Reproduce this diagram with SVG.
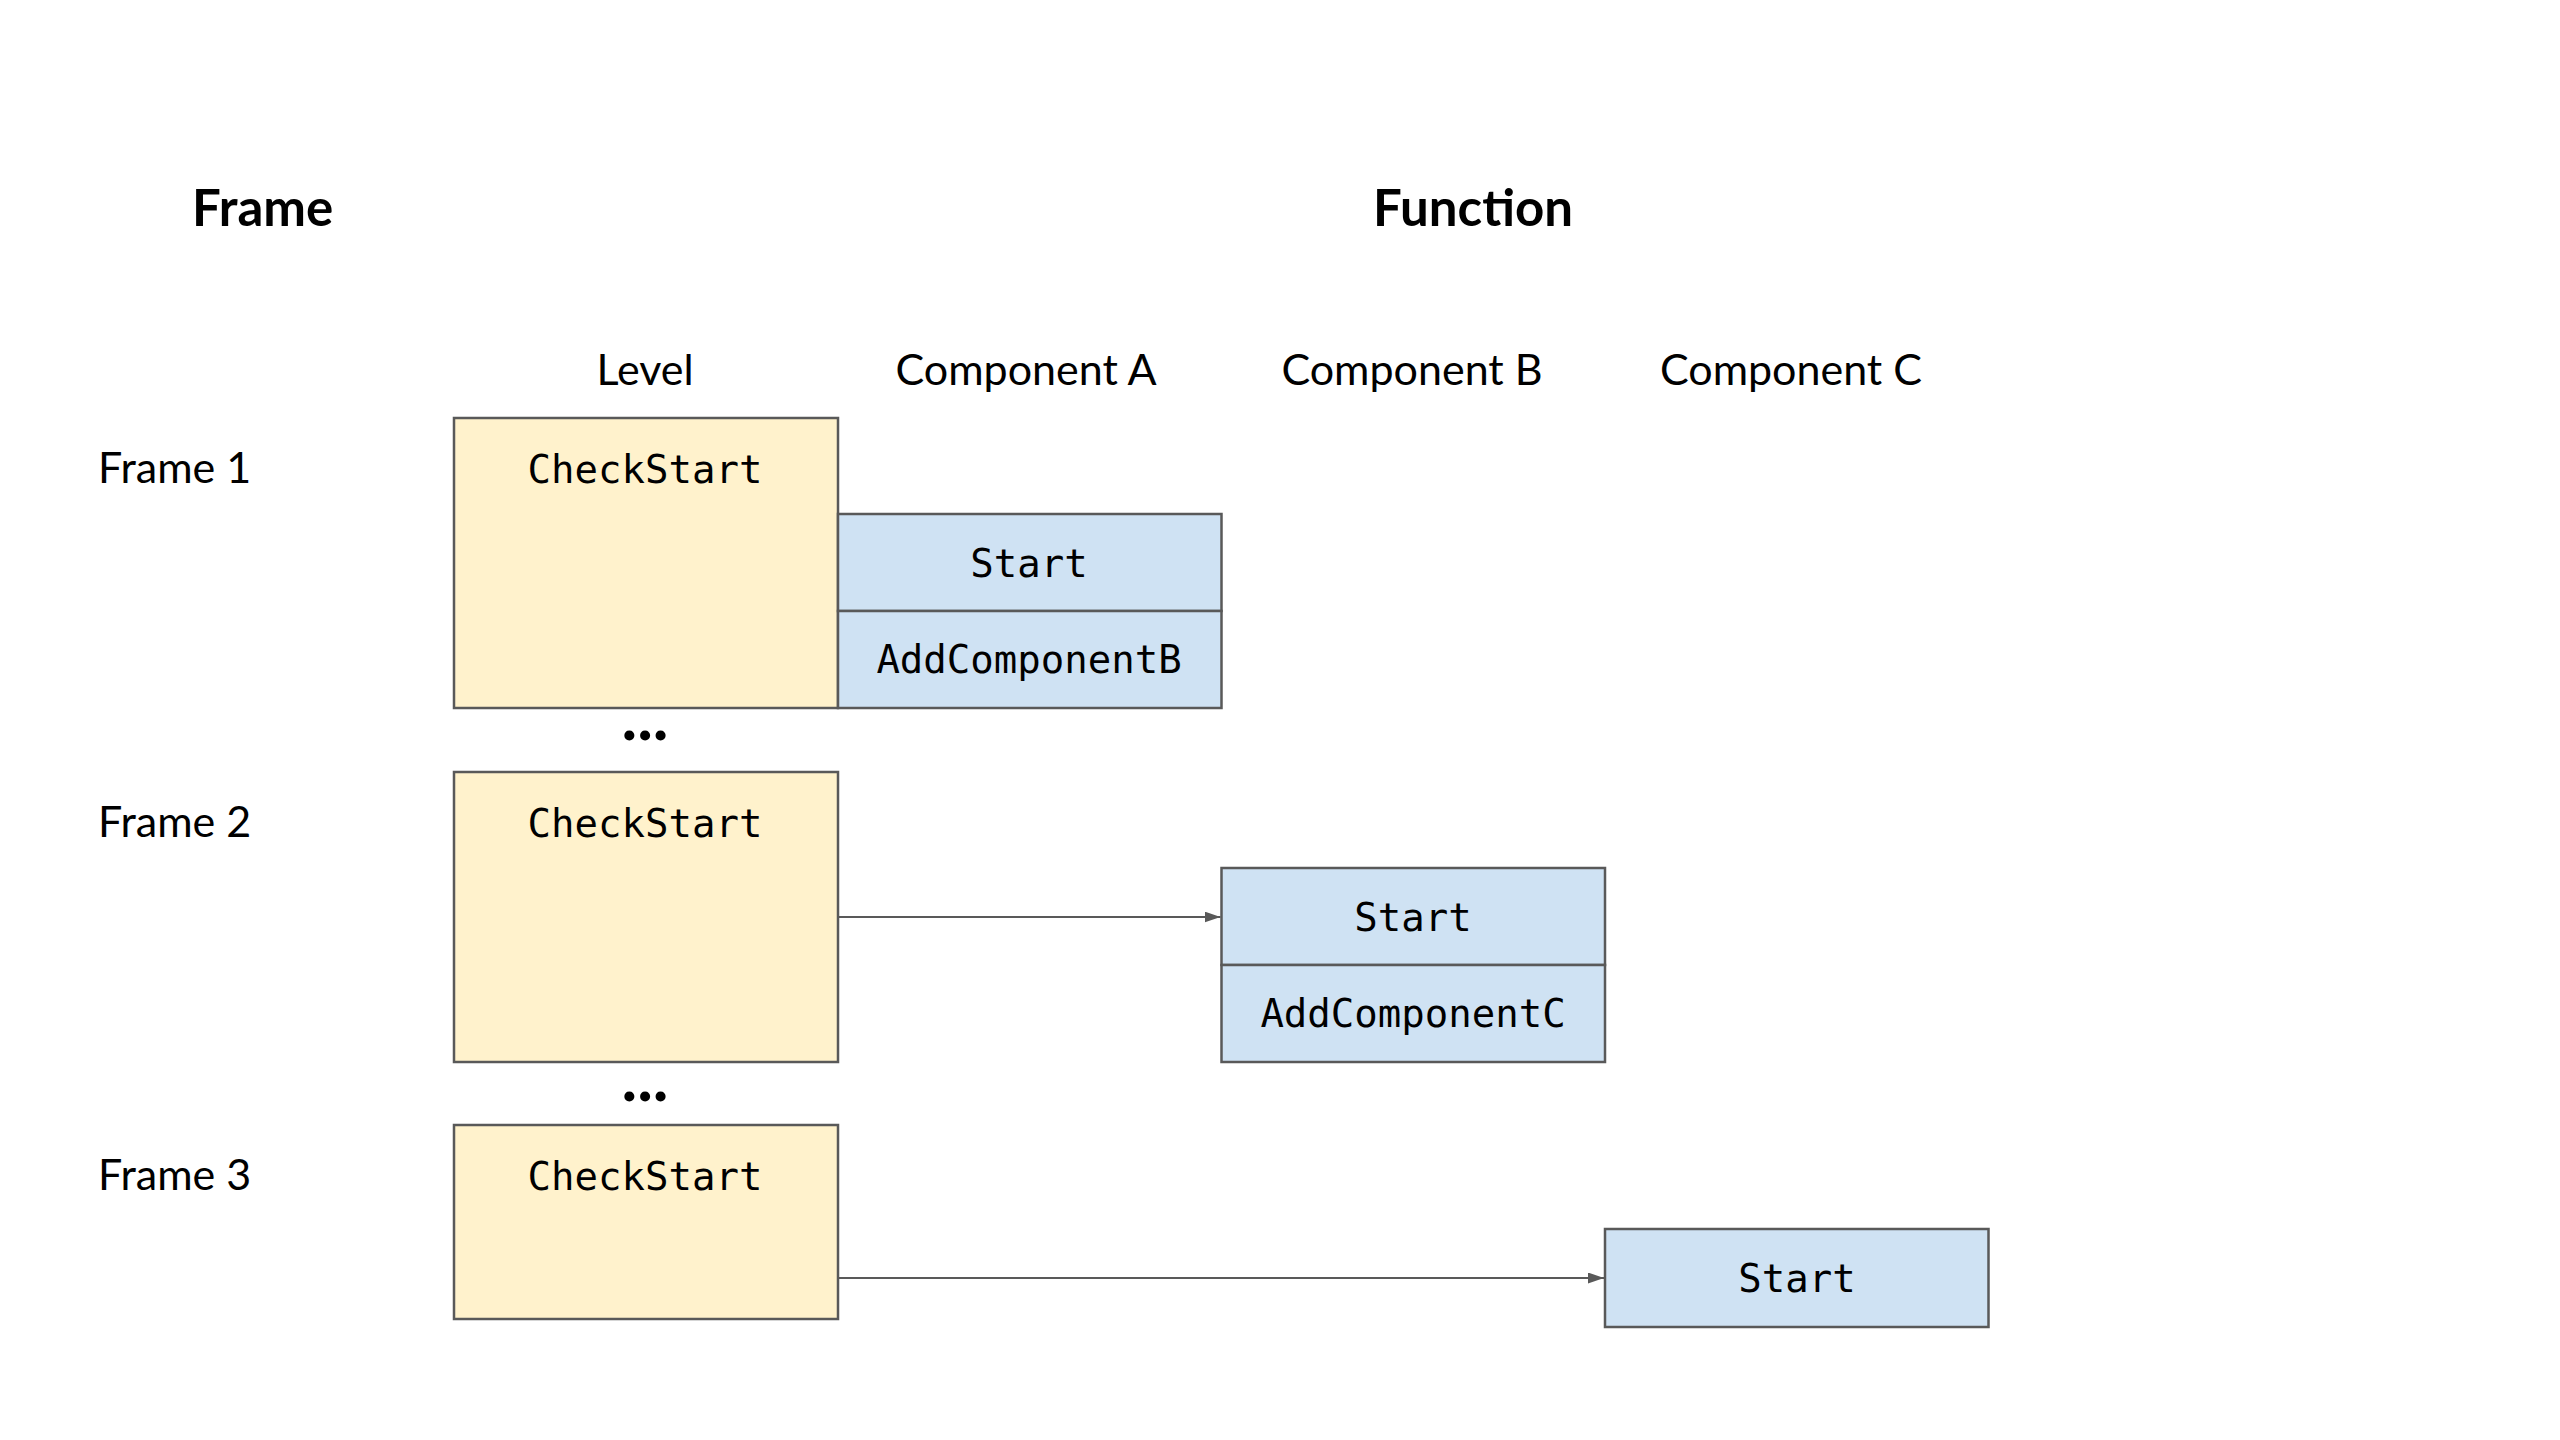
<svg xmlns="http://www.w3.org/2000/svg" width="2560" height="1440" viewBox="0 0 2560 1440">
  <defs>
    <style>
      .title { font-family: Lato, "Liberation Sans", sans-serif; font-weight: bold; font-size: 51px; fill: #000; }
      .lbl { font-family: Lato, "Liberation Sans", sans-serif; font-size: 43px; fill: #000; }
      .mid { text-anchor: middle; }
      .code { font-family: "DejaVu Sans Mono", "Liberation Mono", monospace; font-size: 39px; fill: #000; text-anchor: middle; }
      .dots { font-family: Lato, "Liberation Sans", sans-serif; font-weight: bold; font-size: 66px; fill: #000; text-anchor: middle; }
      .lvl { fill: #fff2cc; stroke: #595959; stroke-width: 2.5; }
      .fn { fill: #cfe2f3; stroke: #595959; stroke-width: 2.5; }
      .conn { stroke: #595959; stroke-width: 2; fill: none; marker-end: url(#arrow); }
    </style>
    <marker id="arrow" viewBox="0 0 16 11" refX="16" refY="5.5" markerWidth="16" markerHeight="11" markerUnits="userSpaceOnUse" orient="auto">
      <path d="M0,0 L16,5.5 L0,11 Z" fill="#595959"/>
    </marker>
  </defs>
  <rect width="2560" height="1440" fill="#ffffff"/>

  <g id="headers">
    <text class="title" x="192" y="226">Frame</text>
    <text class="title mid" x="1473" y="226">Function</text>
    <text class="lbl mid" x="645" y="385">Level</text>
    <text class="lbl mid" x="1026" y="385">Component A</text>
    <text class="lbl mid" x="1412" y="385">Component B</text>
    <text class="lbl mid" x="1791" y="385">Component C</text>
    <text class="lbl" x="98" y="483">Frame 1</text>
    <text class="lbl" x="98" y="837">Frame 2</text>
    <text class="lbl" x="98" y="1190">Frame 3</text>
    <text class="dots" x="645" y="740">...</text>
    <text class="dots" x="645" y="1101">...</text>
  </g>

  <g id="frame1-level">
    <rect class="lvl" x="454" y="418" width="384" height="290"/>
    <text class="code" x="645" y="483">CheckStart</text>
  </g>
  <g id="frame1-compA-start">
    <rect class="fn" x="838" y="514" width="383.5" height="97"/>
    <text class="code" x="1029" y="577">Start</text>
  </g>
  <g id="frame1-compA-add">
    <rect class="fn" x="838" y="611" width="383.5" height="97"/>
    <text class="code" x="1029" y="673">AddComponentB</text>
  </g>

  <g id="frame2-level">
    <rect class="lvl" x="454" y="772" width="384" height="290"/>
    <text class="code" x="645" y="837">CheckStart</text>
  </g>
  <g id="frame2-compB-start">
    <rect class="fn" x="1221.5" y="868" width="383.5" height="97"/>
    <text class="code" x="1413" y="931">Start</text>
  </g>
  <g id="frame2-compB-add">
    <rect class="fn" x="1221.5" y="965" width="383.5" height="97"/>
    <text class="code" x="1413" y="1027">AddComponentC</text>
  </g>

  <g id="frame3-level">
    <rect class="lvl" x="454" y="1125" width="384" height="194"/>
    <text class="code" x="645" y="1190">CheckStart</text>
  </g>
  <g id="frame3-compC-start">
    <rect class="fn" x="1605" y="1229" width="383.5" height="98"/>
    <text class="code" x="1797" y="1292">Start</text>
  </g>

  <g id="connectors">
    <line class="conn" x1="838" y1="917" x2="1220.5" y2="917"/>
    <line class="conn" x1="838" y1="1278" x2="1604" y2="1278"/>
  </g>
</svg>
